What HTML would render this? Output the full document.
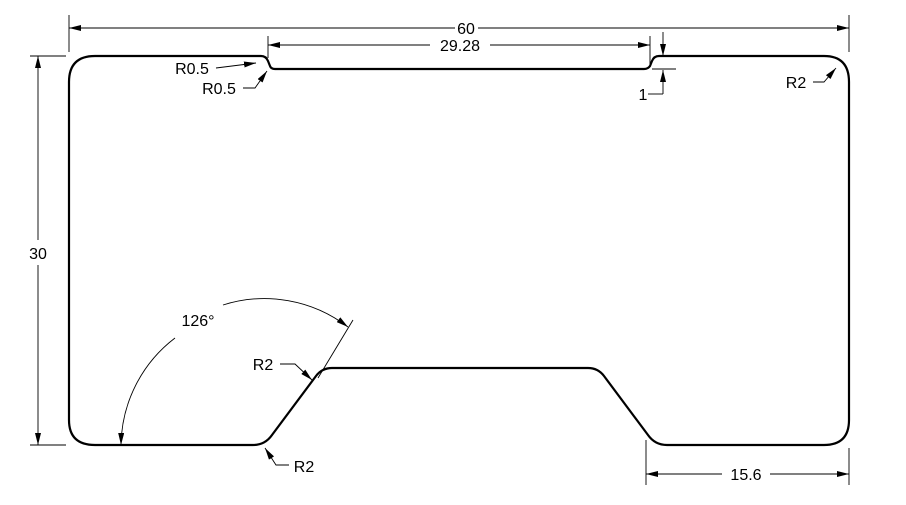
<!DOCTYPE html>
<html><head><meta charset="utf-8"><style>
html,body{margin:0;padding:0;background:#fff;}
svg{display:block;}
text{font-family:"Liberation Sans",sans-serif;font-size:16px;fill:#000;}
</style></head><body>
<svg width="906" height="505" viewBox="0 0 906 505" xmlns="http://www.w3.org/2000/svg">
<defs>
<marker id="a" viewBox="0 0 12 6" refX="12" refY="3" markerWidth="12" markerHeight="6" orient="auto-start-reverse" markerUnits="userSpaceOnUse">
<path d="M0,0 L12,3 L0,6 Z" fill="#000"/></marker>
</defs>
<path d="M95,56 L261,56 Q266,56 268,61 L270,66 Q271,69 275,69 L644,69 Q648,69 650,66 L652,61 Q654,56 659,56 L824,56 Q849,56 849,82 L849,420 Q849,445 824,445 L667,445 Q655,445 648,435 L604,376 Q598,368 588,368 L332,368 Q322,368 316,376 L272,435 Q265,445 253,445 L95,445 Q69,445 69,420 L69,82 Q69,56 95,56 Z" fill="none" stroke="#000" stroke-width="2.2"/>
<g stroke="#000" stroke-width="0.9" fill="none">
<line x1="69" y1="15" x2="69" y2="52"/><line x1="849" y1="15" x2="849" y2="52"/>
<line x1="69" y1="28" x2="455" y2="28" marker-start="url(#a)"/>
<line x1="478" y1="28" x2="849" y2="28" marker-end="url(#a)"/>
<line x1="268" y1="36" x2="268" y2="58"/><line x1="650" y1="36" x2="650" y2="64"/>
<line x1="268" y1="45" x2="430" y2="45" marker-start="url(#a)"/>
<line x1="490" y1="45" x2="650" y2="45" marker-end="url(#a)"/>
<line x1="663" y1="32" x2="663" y2="56" marker-end="url(#a)"/>
<line x1="663" y1="94" x2="663" y2="70" marker-end="url(#a)"/>
<line x1="648" y1="94" x2="663" y2="94"/>
<line x1="652" y1="69" x2="676" y2="69"/>
<line x1="30" y1="56" x2="66" y2="56"/><line x1="30" y1="445" x2="66" y2="445"/>
<line x1="38" y1="56" x2="38" y2="240" marker-start="url(#a)"/>
<line x1="38" y1="265" x2="38" y2="445" marker-end="url(#a)"/>
<line x1="646" y1="440" x2="646" y2="485"/><line x1="849" y1="448" x2="849" y2="485"/>
<line x1="646" y1="474" x2="722" y2="474" marker-start="url(#a)"/>
<line x1="770" y1="474" x2="849" y2="474" marker-end="url(#a)"/>
<line x1="216" y1="68" x2="256" y2="63" marker-end="url(#a)"/>
<polyline points="243,88 255,88 267,71" marker-end="url(#a)"/>
<polyline points="813,82 824,82 836,68" marker-end="url(#a)"/>
<polyline points="280,364 295,364 312,380" marker-end="url(#a)"/>
<polyline points="289,465 276,465 265,448" marker-end="url(#a)"/>
<line x1="318" y1="378" x2="353" y2="320"/>
<path d="M121,445 A137,137 0 0 1 175,338" marker-start="url(#a)"/>
<path d="M223,305 A137,137 0 0 1 348,327" marker-end="url(#a)"/>
</g>
<text x="466" y="34" text-anchor="middle">60</text>
<text x="460" y="51" text-anchor="middle">29.28</text>
<text x="643" y="100" text-anchor="middle">1</text>
<text x="38" y="259" text-anchor="middle">30</text>
<text x="746" y="480" text-anchor="middle">15.6</text>
<text x="192" y="74" text-anchor="middle">R0.5</text>
<text x="219" y="94" text-anchor="middle">R0.5</text>
<text x="796" y="88" text-anchor="middle">R2</text>
<text x="263" y="370" text-anchor="middle">R2</text>
<text x="304" y="472" text-anchor="middle">R2</text>
<text x="198" y="326" text-anchor="middle">126°</text>
</svg>
</body></html>
